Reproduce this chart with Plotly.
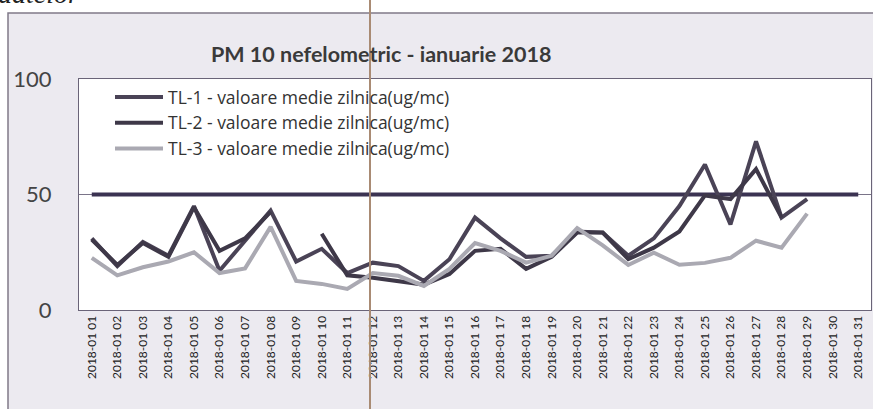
import plotly.graph_objects as go

days = ["2018-01 %02d" % d for d in range(1, 32)]

tl1 = [31, 19, 29.5, 23.5, 45, 17, 30, 43, 21, 26.5, 16, 20.5, 19, 12.6, 22,
       40, 31, 23, 23.5, 34, 33.5, 23.5, 31, 45, 63, 37, 73, 40, 48, None, None]
tl2 = [30.5, 19.5, 29, 23, 44.5, 25.6, 31, 42.5, None, 33, 15, 14, 12.6, 11, 15.6,
       25.6, 26.5, 17.8, 23, 33.5, 33.5, 22, 27, 34, 49.6, 48, 61, 40, None, None, None]
tl3 = [22.6, 15, 18.5, 21, 25, 16, 18, 36, 12.6, 11.3, 9.1, 16, 14.8, 10.4, 17.8,
       29, 25.6, 20.5, 23.5, 35.5, 28, 19.5, 24.8, 19.6, 20.4, 22.6, 30, 27, 41.7, None, None]
limit = [50] * 31

names = ["TL-1 - valoare medie zilnica(ug/mc)",
         "TL-2 - valoare medie zilnica(ug/mc)",
         "TL-3 - valoare medie zilnica(ug/mc)"]
title_text = "PM 10 nefelometric - ianuarie 2018"

W, H = 873, 409
L, R, T, B = 79, 2, 79, 99
pw, ph = W - L - R, H - T - B

fig = go.Figure()
fig.add_trace(go.Scatter(x=days, y=limit, mode="lines", showlegend=False,
                         line=dict(color="#3b3352", width=4)))
fig.add_trace(go.Scatter(x=days, y=tl1, mode="lines", name=names[0], legendgroup="a",
                         line=dict(color="#4a4356", width=4)))
fig.add_trace(go.Scatter(x=days, y=tl2, mode="lines", name=names[1], legendgroup="b",
                         line=dict(color="#3e3848", width=4)))
fig.add_trace(go.Scatter(x=days, y=tl3, mode="lines", name=names[2], legendgroup="c",
                         line=dict(color="#aaa9b2", width=4)))

def px_x(x):
    return (x - L) / pw

def px_y(y):
    return 1 - (y - T) / ph

fig.update_layout(
    width=W, height=H,
    margin=dict(l=L, r=R, t=T, b=B),
    paper_bgcolor="white",
    plot_bgcolor="white",
    font=dict(family="Lato, Open Sans, sans-serif", color="#333"),
    legend=dict(x=px_x(110), y=px_y(79), xanchor="left", yanchor="top",
                bgcolor="rgba(0,0,0,0)",
                font=dict(size=17.5, color="#333", family="Open Sans, sans-serif"),
                tracegroupgap=0, itemwidth=48),
    xaxis=dict(type="category", range=[-0.5, 30.5], tickangle=-90,
               tickfont=dict(size=12, color="#222"), showgrid=False,
               showline=True, mirror=True, linecolor="#6a6478", linewidth=1,
               ticks=""),
    yaxis=dict(range=[0, 100], tickvals=[0, 50, 100], showgrid=True,
               gridcolor="#7a7488", gridwidth=1, zeroline=False,
               tickfont=dict(size=22, color="#444"), ticklabelstandoff=22,
               showline=True, mirror=True, linecolor="#6a6478", linewidth=1),
    shapes=[
        dict(type="rect", xref="paper", yref="paper", x0=px_x(8), x1=px_x(880),
             y0=px_y(13), y1=px_y(420), fillcolor="#eceaf0",
             line=dict(color="#807a88", width=1.5), layer="below"),
        dict(type="rect", xref="paper", yref="paper", x0=0, x1=1, y0=0, y1=1,
             fillcolor="white", line=dict(width=0), layer="below"),
        dict(type="line", xref="paper", yref="paper", x0=px_x(370), x1=px_x(370),
             y0=px_y(0), y1=px_y(409), line=dict(color="#a98b74", width=2),
             layer="above"),
    ],
    annotations=[
        dict(text="<b>" + title_text + "</b>", xref="paper", yref="paper",
             x=px_x(381), y=px_y(54), xanchor="center", yanchor="middle",
             showarrow=False, font=dict(size=21.5, color="#3a3a3a")),
        dict(text="<i>datelor</i>", xref="paper", yref="paper",
             x=px_x(-4), y=px_y(11), xanchor="left", yanchor="bottom",
             showarrow=False, font=dict(size=28, color="#222",
                                        family="Liberation Serif, serif")),
    ],
)

fig.write_html("out.html", config={"displayModeBar": False},
               post_script="document.body.style.margin='0';document.body.style.overflow='hidden';")
